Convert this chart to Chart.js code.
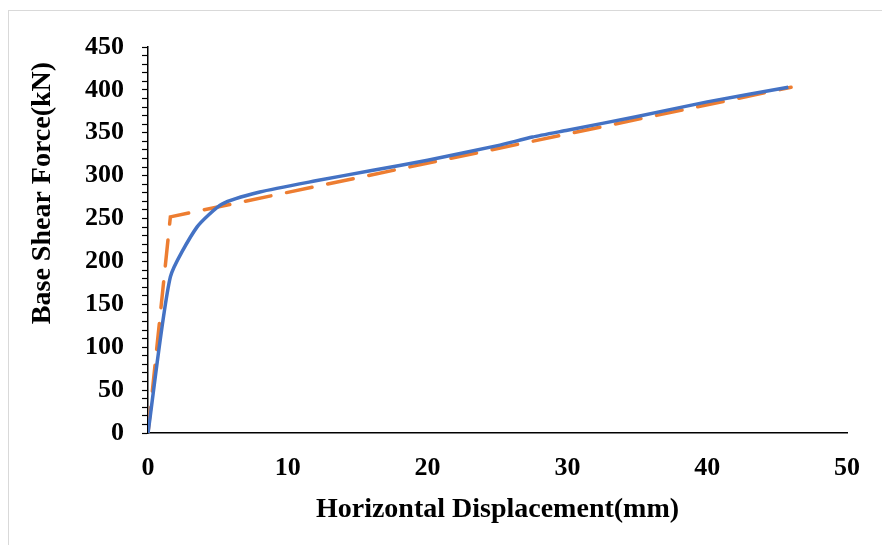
<!DOCTYPE html>
<html>
<head>
<meta charset="utf-8">
<script src="https://cdn.jsdelivr.net/npm/chart.js@4.4.1/dist/chart.umd.min.js"></script>
<style>
  html, body { margin: 0; padding: 0; background: #fff; }
  #wrap { position: relative; width: 882px; height: 545px; }
  #frame {
    position: absolute; left: 8px; top: 10px; width: 880px; height: 540px;
    border: 1px solid #d9d9d9; pointer-events: none;
  }
</style>
</head>
<body>
<div id="wrap">
  <canvas id="chart" width="882" height="545"></canvas>
  <div id="frame"></div>
</div>
<script>
// 곡선 데이터
const dispCurve = [0, 1.6, 3.5, 5.3, 8, 12, 16, 20, 25, 27.5, 30, 35, 40, 45.8];
const forceCurve = [0, 182, 240, 267, 281, 294, 306, 318, 335, 345, 353, 369, 386, 403];

// 이선형 근사 (점선)
const dispBilinear = [0, 1.6, 46];
const forceBilinear = [0, 252, 403];

const xTicks = [0, 10, 20, 30, 40, 50];
const yMax = 450;
const yTitle = "Base Shear Force(kN)";

const toPoints = (xs, ys) => xs.map((x, i) => ({ x, y: ys[i] }));

const serif = "'Liberation Serif', 'Times New Roman', serif";
const tickFont = { family: serif, weight: "bold", size: 26 };
const titleFont = { family: serif, weight: "bold", size: 28 };

// y축 제목은 직접 그림 (위치 맞추기용)
const yTitlePlugin = {
  id: "yTitle",
  afterDraw(chart) {
    const { ctx } = chart;
    ctx.save();
    ctx.translate(43, 193);
    ctx.rotate(-Math.PI / 2);
    ctx.font = `bold ${titleFont.size}px ${serif}`;
    ctx.fillStyle = "#000";
    ctx.textAlign = "center";
    ctx.textBaseline = "middle";
    ctx.fillText(yTitle, 0, 0);
    ctx.restore();
  },
};

new Chart(document.getElementById("chart"), {
  type: "scatter",
  data: {
    datasets: [
      {
        label: "Curve",
        data: toPoints(dispCurve, forceCurve),
        showLine: true,
        borderColor: "#4472c4",
        borderWidth: 3.5,
        pointRadius: 0,
        tension: 0.2,
      },
      {
        label: "Bilinear",
        data: toPoints(dispBilinear, forceBilinear),
        showLine: true,
        borderColor: "#ed7d31",
        borderWidth: 3.5,
        borderDash: [26, 16],
        borderCapStyle: "round",
        pointRadius: 0,
      },
    ],
  },
  options: {
    responsive: false,
    animation: false,
    layout: { padding: { top: 47, right: 35, left: 0, bottom: 0 } },
    plugins: { legend: { display: false }, tooltip: { enabled: false } },
    scales: {
      x: {
        type: "linear",
        min: 0,
        max: 50,
        afterBuildTicks: (s) => { s.ticks = xTicks.map((v) => ({ value: v })); },
        afterFit: (s) => { s.height = 112; },
        grid: { display: true, drawOnChartArea: false, drawTicks: false },
        border: { color: "#000", width: 1.5 },
        ticks: { color: "#000", font: tickFont, padding: 20, maxRotation: 0 },
        title: {
          display: true,
          text: "Horizontal Displacement(mm)",
          color: "#000",
          font: titleFont,
          padding: { top: 0, bottom: 18 },
        },
      },
      y: {
        type: "linear",
        min: 0,
        max: yMax,
        afterFit: (s) => { s.width = 148; },
        grid: { display: true, drawOnChartArea: false, drawTicks: true, tickLength: 6, color: "#000", tickWidth: 1.2 },
        border: { color: "#000", width: 1.5 },
        ticks: {
          stepSize: 10,
          autoSkip: false,
          color: "#000",
          font: tickFont,
          padding: 18,
          callback: (v) => (v % 50 === 0 ? v : ""),
        },
      },
    },
  },
  plugins: [yTitlePlugin],
});
</script>
</body>
</html>
